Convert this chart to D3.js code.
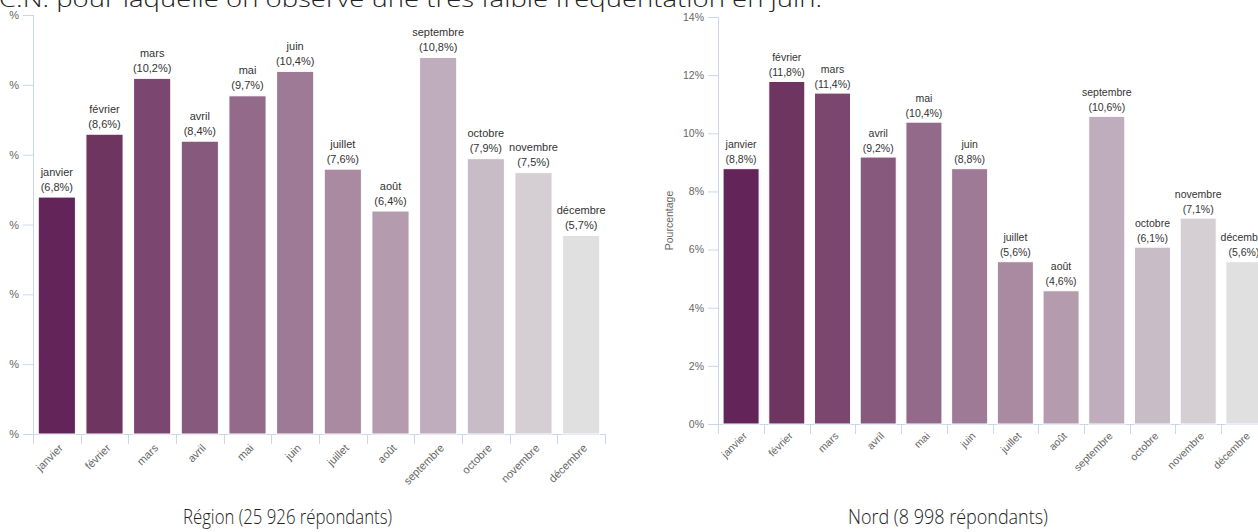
<!DOCTYPE html>
<html lang="fr">
<head>
<meta charset="utf-8">
<script src="https://cdn.jsdelivr.net/npm/d3@7"></script>
<style>
  html, body { margin: 0; padding: 0; background: #fff; }
  svg { display: block; }
</style>
</head>
<body>
<svg id="page" width="1258" height="532"></svg>
<script>
// Mois de fréquentation
const months = ["janvier", "février", "mars", "avril", "mai", "juin", "juillet", "août", "septembre", "octobre", "novembre", "décembre"];

// Part des répondants par mois (%)
const regionValues = [6.8, 8.6, 10.2, 8.4, 9.7, 10.4, 7.6, 6.4, 10.8, 7.9, 7.5, 5.7];
const nordValues   = [8.8, 11.8, 11.4, 9.2, 10.4, 8.8, 5.6, 4.6, 10.6, 6.1, 7.1, 5.6];

// Graduations des axes verticaux
const regionTicks = [0, 2, 4, 6, 8, 10, 12];
const nordTicks   = [0, 2, 4, 6, 8, 10, 12, 14];

// Dégradé violet -> gris, un ton par mois
const monthColors = ["#632459", "#6f3561", "#7b466f", "#87597c", "#936a8a", "#9e7a96", "#aa8aa1", "#b49cae", "#bfacbc", "#c8bcc7", "#d5cfd4", "#e0e0e0"];

const introText = "C.N. pour laquelle on observe une très faible fréquentation en juin.";
const captions = ["Région (25 926 répondants)", "Nord (8 998 répondants)"];

const svg = d3.select("#page");
const axisColor = "#ccd6eb";
const fmt = v => "(" + v.toFixed(1).replace(".", ",") + "%)";

function drawChart(opt) {
  const g = svg.append("g");
  const x = d3.scaleBand().domain(months).range([opt.left, opt.right])
    .paddingInner(opt.padInner).paddingOuter(opt.padOuter);
  const y = d3.scaleLinear().domain([0, opt.max]).range([opt.bottom, opt.top]);

  // axe vertical
  const yAxis = d3.axisLeft(y).tickValues(opt.ticks).tickSize(10).tickPadding(4)
    .tickFormat(opt.tickFormat);
  const ya = g.append("g").attr("transform", `translate(${opt.left},0)`).call(yAxis);
  ya.select(".domain").attr("stroke", axisColor).attr("d", `M0.5,${opt.top}V${opt.bottom}`);
  ya.selectAll(".tick line").attr("stroke", axisColor);
  ya.selectAll(".tick text").attr("fill", "#666").attr("font-size", opt.font + "px")
    .attr("font-family", "Liberation Sans, Arial, sans-serif");

  if (opt.yTitle) {
    g.append("text")
      .attr("transform", `translate(${opt.yTitleX},${(opt.top + opt.bottom) / 2}) rotate(-90)`)
      .attr("text-anchor", "middle").attr("fill", "#666")
      .attr("font-size", opt.font + "px").attr("font-family", "Liberation Sans, Arial, sans-serif")
      .text(opt.yTitle);
  }

  // axe horizontal : ligne de base et repères entre catégories
  g.append("line").attr("x1", opt.left).attr("x2", opt.right)
    .attr("y1", opt.bottom + 0.5).attr("y2", opt.bottom + 0.5).attr("stroke", axisColor);
  const step = x.step();
  const x0 = x(months[0]) - step * x.paddingInner() / 2;
  g.selectAll(".xtick").data(d3.range(months.length + 1)).join("line")
    .attr("x1", i => Math.round(x0 + i * step) + 0.5).attr("x2", i => Math.round(x0 + i * step) + 0.5)
    .attr("y1", opt.bottom).attr("y2", opt.bottom + 10).attr("stroke", axisColor);

  g.selectAll(".xlab").data(months).join("text")
    .attr("transform", d => `translate(${x(d) + x.bandwidth() / 2 + 4},${opt.bottom + opt.labOffset}) rotate(-45)`)
    .attr("text-anchor", "end").attr("dy", "0.35em")
    .attr("fill", "#666").attr("font-size", opt.font + "px")
    .attr("font-family", "Liberation Sans, Arial, sans-serif")
    .text(d => d);

  // barres
  g.selectAll(".bar").data(opt.values).join("rect")
    .attr("x", (d, i) => x(months[i]) + 0.5)
    .attr("y", d => y(d) + 0.5)
    .attr("width", x.bandwidth() - 1)
    .attr("height", d => y(0) - y(d) - 0.5)
    .attr("fill", (d, i) => monthColors[i])
    .attr("stroke", "#fff").attr("stroke-width", 1);

  // étiquettes de valeur
  const lab = g.selectAll(".dl").data(opt.values).join("text")
    .attr("text-anchor", "middle").attr("fill", "#333")
    .attr("font-size", opt.dlFont + "px").attr("font-family", "Liberation Sans, Arial, sans-serif");
  lab.append("tspan")
    .attr("x", (d, i) => x(months[i]) + x.bandwidth() / 2)
    .attr("y", d => y(d) - opt.dlGap - opt.dlLine)
    .text((d, i) => months[i]);
  lab.append("tspan")
    .attr("x", (d, i) => x(months[i]) + x.bandwidth() / 2)
    .attr("y", d => y(d) - opt.dlGap)
    .text(d => fmt(d));
}

drawChart({
  values: regionValues, ticks: regionTicks, max: 12,
  left: 33, right: 605, top: 15, bottom: 434,
  padInner: 0.2, padOuter: 0.1,
  tickFormat: () => "%", font: 11, dlFont: 11, dlGap: 6, dlLine: 15, labOffset: 12
});

drawChart({
  values: nordValues, ticks: nordTicks, max: 14,
  left: 718, right: 1267, top: 17, bottom: 424,
  padInner: 0.19, padOuter: 0.1,
  tickFormat: d => d + "%", font: 10.5, dlFont: 10.5, dlGap: 5, dlLine: 15, labOffset: 10,
  yTitle: "Pourcentage", yTitleX: 673
});

// texte de la page
svg.append("text").attr("x", -1).attr("y", 7)
  .attr("font-family", "Open Sans, Liberation Sans, sans-serif").attr("font-weight", 300)
  .attr("font-size", "22px").attr("fill", "#222")
  .attr("textLength", 823).attr("lengthAdjust", "spacingAndGlyphs")
  .text(introText);

const capX = [183, 848], capW = [209, 200];
svg.selectAll(".cap").data(captions).join("text")
  .attr("x", (d, i) => capX[i]).attr("y", 524)
  .attr("font-family", "Open Sans, Liberation Sans, sans-serif").attr("font-weight", 300)
  .attr("font-size", "21px").attr("fill", "#222")
  .attr("textLength", (d, i) => capW[i]).attr("lengthAdjust", "spacingAndGlyphs")
  .text(d => d);
</script>
</body>
</html>
